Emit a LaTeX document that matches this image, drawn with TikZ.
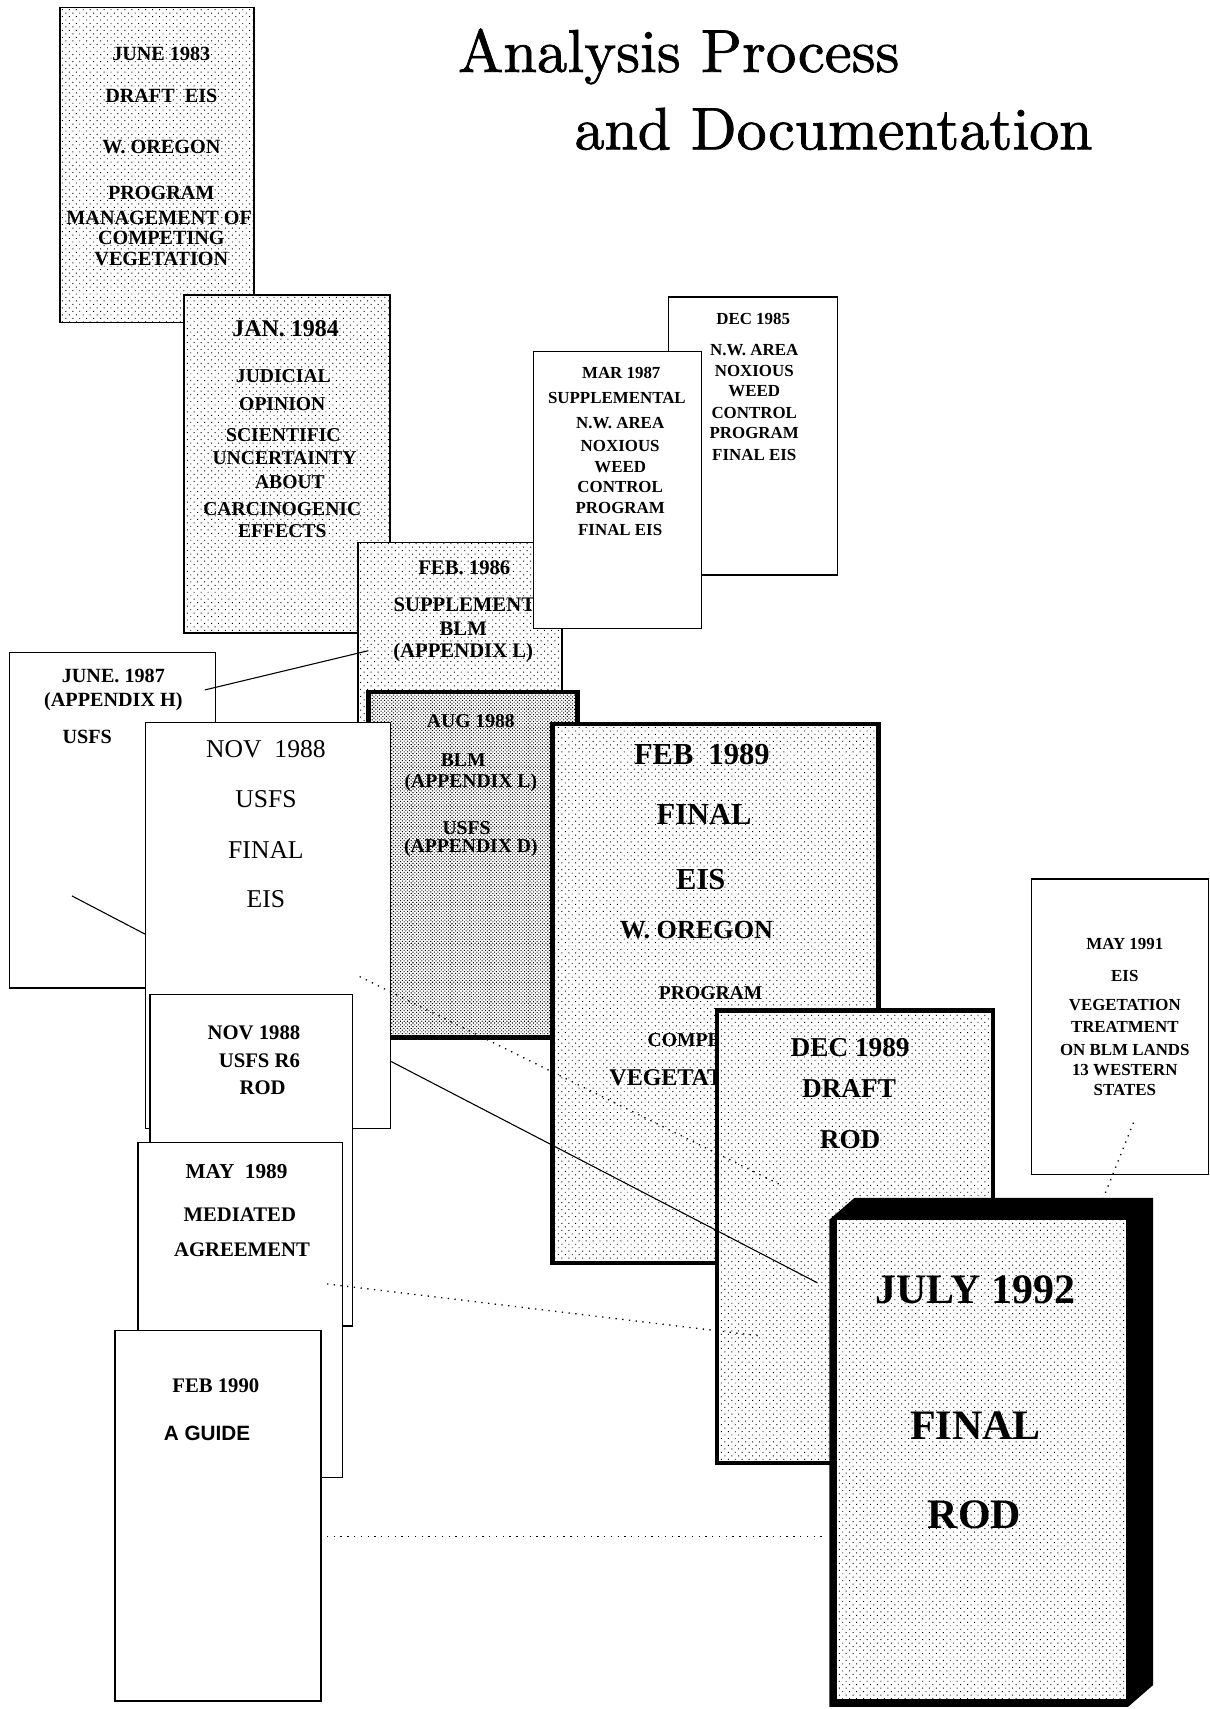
\documentclass[tikz,border=0pt]{standalone}
\usepackage{fontspec}
\usepackage{graphicx}
\usetikzlibrary{patterns.meta}
\newfontfamily\tnr{Liberation Serif}
\newfontfamily\arl{Liberation Sans}
\newfontfamily\ttlfont[FakeBold=1.2]{Latin Modern Roman}
\begin{document}
\begin{tikzpicture}[x=1pt,y=-1pt,
  tx/.style={inner sep=0pt, font=\tnr\bfseries\fontsize{#1}{#1}\selectfont},
  txr/.style={inner sep=0pt, font=\tnr\fontsize{#1}{#1}\selectfont},
  txs/.style={inner sep=0pt, font=\arl\bfseries\fontsize{#1}{#1}\selectfont},
  wbox/.style={draw, fill=white, line width=1.1pt, anchor=north west, inner sep=0pt},
  sbox/.style={draw, preaction={fill=white}, pattern={Dots[distance=4.5pt, angle=45, radius=0.62pt]}, anchor=north west, inner sep=0pt},
  dbox/.style={draw, preaction={fill=white}, pattern={Dots[distance=2.3pt, angle=45, radius=0.68pt]}, anchor=north west, inner sep=0pt},
  conn/.style={line width=1pt},
  dotline/.style={line width=1.2pt, dash pattern=on 1.2pt off 5pt}]
\useasboundingbox (0,0) rectangle (1110,1568);

% title
\node[anchor=base west, inner sep=0pt, font=\ttlfont] (title1) at (420,66) {\resizebox{405pt}{!}{Analysis Process}};
\node[anchor=base west, inner sep=0pt, font=\ttlfont] (title2) at (527,137) {\resizebox{475pt}{!}{and Documentation}};

% JUNE 1983
\node[sbox, line width=1.8pt, minimum width=178pt, minimum height=289pt] (b83) at (54,6) {};
\node[tx=18.5] (b83a) at (148,49) {JUNE 1983};
\node[tx=18.5] (b83b) at (148,88) {DRAFT\ \ EIS};
\node[tx=18.5] (b83c) at (148,135) {W. OREGON};
\node[tx=18.5] (b83d) at (148,177) {PROGRAM};
\node[tx=18.5] (b83e) at (146,200) {MANAGEMENT OF};
\node[tx=18.5] (b83f) at (148,218) {COMPETING};
\node[tx=18.5] (b83g) at (148,238) {VEGETATION};

% JAN 1984
\node[sbox, line width=1.8pt, minimum width=189pt, minimum height=310pt] (b84) at (168,270) {};
\node[tx=22] (b84a) at (262,302) {JAN. 1984};
\node[tx=18] (b84b) at (260,345) {JUDICIAL};
\node[tx=18] (b84c) at (259,371) {OPINION};
\node[tx=18] (b84d) at (260,399) {SCIENTIFIC};
\node[tx=18] (b84e) at (261,420) {UNCERTAINTY};
\node[tx=18] (b84f) at (266,442) {ABOUT};
\node[tx=18] (b84g) at (259,467) {CARCINOGENIC};
\node[tx=18] (b84h) at (259,487) {EFFECTS};

% DEC 1985
\node[wbox, minimum width=155pt, minimum height=255pt] (b85) at (613,272) {};
\node[tx=15.5] (b85a) at (691,293) {DEC 1985};
\node[tx=15.5] (b85b) at (692,321) {N.W. AREA};
\node[tx=15.5] (b85c) at (692,340) {NOXIOUS};
\node[tx=15.5] (b85d) at (692,359) {WEED};
\node[tx=15.5] (b85e) at (692,379) {CONTROL};
\node[tx=15.5] (b85f) at (692,397) {PROGRAM};
\node[tx=15.5] (b85g) at (692,417) {FINAL EIS};

% FEB 1986
\node[sbox, line width=1.2pt, minimum width=187pt, minimum height=203pt] (b86) at (328,497) {};
\node[tx=19] (b86a) at (426,521) {FEB. 1986};
\node[tx=19] (b86b) at (426,555) {SUPPLEMENT};
\node[tx=19] (b86c) at (425,577) {BLM};
\node[tx=19] (b86d) at (425,599) {(APPENDIX L)};

% MAR 1987
\node[wbox, minimum width=154pt, minimum height=254pt] (b87m) at (489,322) {};
\node[tx=15.5] (b87ma) at (570,342) {MAR 1987};
\node[tx=15.5] (b87mb) at (566,365) {SUPPLEMENTAL};
\node[tx=15.5] (b87mc) at (569,388) {N.W. AREA};
\node[tx=15.5] (b87md) at (569,409) {NOXIOUS};
\node[tx=15.5] (b87me) at (569,429) {WEED};
\node[tx=15.5] (b87mf) at (569,447) {CONTROL};
\node[tx=15.5] (b87mg) at (569,466) {PROGRAM};
\node[tx=15.5] (b87mh) at (569,486) {FINAL EIS};

% AUG 1988
\node[dbox, line width=4pt, minimum width=192pt, minimum height=317pt] (b88a) at (336,633) {};
\node[tx=18] (b88aa) at (432,662) {AUG 1988};
\node[tx=18] (b88ab) at (425,697) {BLM};
\node[tx=18] (b88ac) at (432,718) {(APPENDIX L)};
\node[tx=18] (b88ad) at (428,760) {USFS};
\node[tx=18] (b88ae) at (432,778) {(APPENDIX D)};

% JUNE 1987
\node[wbox, minimum width=189pt, minimum height=308pt] (b87j) at (8,598) {};
\node[tx=18.5] (b87ja) at (104,620) {JUNE. 1987};
\node[tx=18.5] (b87jb) at (104,644) {(APPENDIX H)};
\node[tx=18.5] (b87jc) at (80,676) {USFS};

% NOV 1988 FINAL EIS
\node[wbox, minimum width=225pt, minimum height=373pt] (b88n) at (133,662) {};
\node[txr=23.5] (b88na) at (244,687) {NOV\ \ 1988};
\node[txr=23.5] (b88nb) at (244,733) {USFS};
\node[txr=23.5] (b88nc) at (244,780) {FINAL};
\node[txr=23.5] (b88nd) at (244,825) {EIS};

% FEB 1989
\node[sbox, line width=4pt, minimum width=299pt, minimum height=495pt] (b89f) at (505,662) {};
\node[tx=28] (b89fa) at (644,692) {FEB\ \ 1989};
\node[tx=28] (b89fb) at (646,747) {FINAL};
\node[tx=28] (b89fc) at (643,807) {EIS};
\node[tx=24] (b89fd) at (639,853) {W. OREGON};
\node[tx=18] (b89fe) at (652,911) {PROGRAM};
\node[tx=18, anchor=west] (b89ff) at (594,954) {COMPETING};
\node[tx=22, anchor=west] (b89fg) at (559,989) {VEGETATION};

% NOV 1988 USFS R6 ROD
\node[wbox, minimum width=186pt, minimum height=304pt] (b88r) at (137,912) {};
\node[tx=19] (b88ra) at (233,948) {NOV 1988};
\node[tx=19] (b88rb) at (238,973) {USFS R6};
\node[tx=19] (b88rc) at (241,998) {ROD};

% MAY 1989
\node[wbox, minimum width=188pt, minimum height=307pt] (b89m) at (126,1048) {};
\node[tx=19.5] (b89ma) at (217,1075) {MAY\ \ 1989};
\node[tx=19] (b89mb) at (220,1114) {MEDIATED};
\node[tx=19] (b89mc) at (222,1147) {AGREEMENT};

% FEB 1990
\node[wbox, minimum width=189pt, minimum height=340pt] (b90) at (105,1220) {};
\node[tx=19] (b90a) at (198,1271) {FEB 1990};
\node[txs=19] (b90b) at (190,1315) {A GUIDE};

% DEC 1989
\node[sbox, line width=4pt, minimum width=253pt, minimum height=415pt] (b89d) at (656,925) {};
\node[tx=25] (b89da) at (780,961) {DEC 1989};
\node[tx=25] (b89db) at (779,999) {DRAFT};
\node[tx=25] (b89dc) at (780,1046) {ROD};

% MAY 1991
\node[wbox, minimum width=162pt, minimum height=271pt] (b91) at (946,806) {};
\node[tx=15.5] (b91a) at (1032,866) {MAY 1991};
\node[tx=15.5] (b91b) at (1032,895) {EIS};
\node[tx=15.5] (b91c) at (1032,922) {VEGETATION};
\node[tx=15.5] (b91d) at (1032,942) {TREATMENT};
\node[tx=15.5] (b91e) at (1032,963) {ON BLM LANDS};
\node[tx=15.5] (b91f) at (1032,982) {13 WESTERN};
\node[tx=15.5] (b91g) at (1032,1000) {STATES};

% JULY 1992 (3D block)
\coordinate (k1) at (761,1119);
\coordinate (k2) at (784,1099);
\coordinate (k3) at (1058,1099);
\coordinate (k4) at (1058,1546);
\coordinate (k5) at (1035,1566);
\coordinate (k6) at (761,1566);
\fill[black] (k1) -- (k2) -- (k3) -- (k4) -- (k5) -- (k6) -- cycle;
\node[sbox, draw=none, minimum width=265pt, minimum height=440pt] (b92) at (768,1119) {};
\node[tx=38.5] (b92a) at (895,1183) {JULY 1992};
\node[tx=38.5] (b92b) at (895,1308) {FINAL};
\node[tx=38.5] (b92c) at (894,1390) {ROD};

% connectors
\coordinate (p1) at (188,633);
\coordinate (p2) at (338,597);
\draw[conn] (p1) -- (p2);
\coordinate (p3) at (66,822);
\coordinate (p4) at (133,857);
\draw[conn] (p3) -- (p4);
\coordinate (p5) at (359,974);
\coordinate (p6) at (750,1177);
\draw[conn] (p5) -- (p6);
\coordinate (q1) at (330,896);
\coordinate (q2) at (718,1088);
\draw[dotline] (q1) -- (q2);
\coordinate (q3) at (300,1178);
\coordinate (q4) at (700,1226);
\draw[dotline] (q3) -- (q4);
\coordinate (q5) at (300,1410);
\coordinate (q6) at (757,1410);
\draw[dotline] (q5) -- (q6);
\coordinate (q7) at (1040,1030);
\coordinate (q8) at (1012,1100);
\draw[dotline] (q7) -- (q8);
\end{tikzpicture}
\end{document}
